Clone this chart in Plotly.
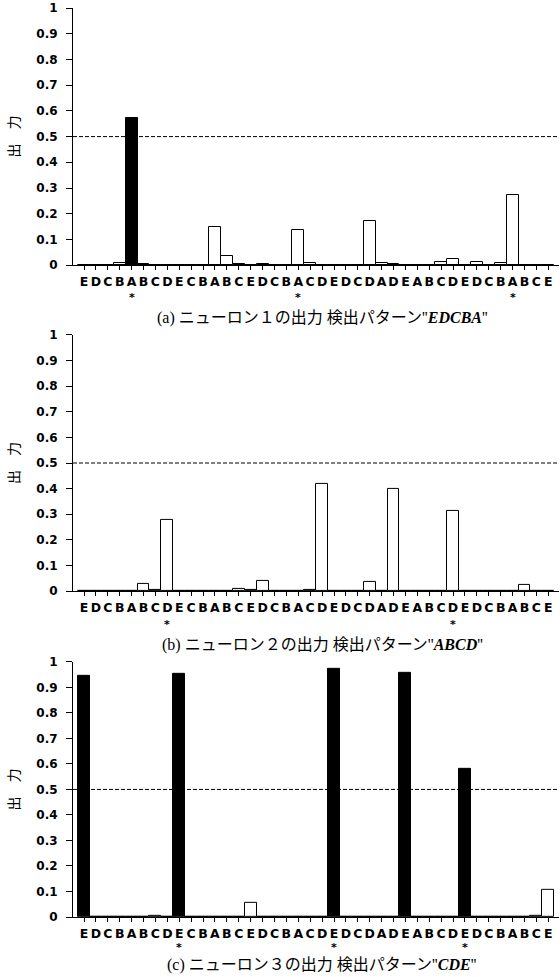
import plotly.graph_objects as go

letters = list("EDCBABCDECBABCEDCBACDEDCDADEABCDEDCBABCE")

vals_a = [0, 0, 0, 0.009, 0.572, 0.004, 0, 0, 0, 0,
          0, 0.147, 0.035, 0.004, 0, 0.004, 0, 0, 0.136, 0.008,
          0, 0, 0, 0, 0.17, 0.008, 0.004, 0, 0, 0,
          0.012, 0.023, 0, 0.012, 0, 0.008, 0.271, 0, 0, 0]
vals_b = [0, 0, 0, 0, 0, 0.026, 0.004, 0.279, 0, 0,
          0, 0, 0, 0.007, 0.004, 0.038, 0, 0, 0, 0.004,
          0.42, 0, 0, 0, 0.035, 0, 0.40, 0, 0, 0,
          0, 0.314, 0, 0, 0, 0, 0, 0.023, 0, 0]
vals_c = [0.945, 0, 0, 0, 0, 0, 0.004, 0, 0.953, 0,
          0, 0, 0, 0, 0.057, 0, 0, 0, 0, 0,
          0, 0.972, 0, 0, 0, 0, 0, 0.956, 0, 0,
          0, 0, 0.581, 0, 0, 0, 0, 0, 0.004, 0.108]

stars_a = [4, 18, 36]
stars_b = [7, 31]
stars_c = [8, 21, 32]

captions = [
    "(a) ニューロン１の出力 検出パターン''<b><i>EDCBA</i></b>''",
    "(b) ニューロン２の出力 検出パターン''<b><i>ABCD</i></b>''",
    "(c) ニューロン３の出力 検出パターン''<b><i>CDE</i></b>''",
]
ytitle = "出　力"
yticks = [0, 0.1, 0.2, 0.3, 0.4, 0.5, 0.6, 0.7, 0.8, 0.9, 1]
yticktext = ["0", "0.1", "0.2", "0.3", "0.4", "0.5", "0.6", "0.7", "0.8", "0.9", "1"]
threshold = 0.5

W, H = 560, 977
ML, MR, MT, MB = 73, 1, 5, 60
ph = H - MT - MB
pw = W - ML - MR

def py(px):
    return (H - MB - px) / ph

domains = [(py(263), py(5)), (py(590), py(333)), (py(917), py(661))]
caption_y = [316, 644, 965]
star_y = [295, 624, 948]

fig = go.Figure()
series = [vals_a, vals_b, vals_c]
stars = [stars_a, stars_b, stars_c]
xs = list(range(len(letters)))
tickfont = dict(family="DejaVu Sans", size=12, color="black", weight="bold")

annotations = []
shapes = []
for k in range(3):
    ax = "" if k == 0 else str(k + 1)
    vals = series[k]
    colors = ["black" if v > threshold else "white" for v in vals]
    fig.add_trace(go.Bar(
        x=xs, y=vals, marker=dict(color=colors, line=dict(color="black", width=1)),
        width=1.0, xaxis="x" + ax, yaxis="y" + ax, showlegend=False, hoverinfo="skip"))
    common_x = dict(
        domain=[0, 1], range=[-0.924, 39.9], tickmode="array", tickvals=xs,
        ticktext=letters, tickangle=0,
        ticks="outside", ticklen=4, tickwidth=1, tickcolor="black",
        showline=True, linecolor="black", linewidth=1, showgrid=False, zeroline=False,
        tickfont=dict(family="DejaVu Sans", size=12.5, color="black", weight="bold"),
        ticklabelstandoff=1, anchor="y" + ax, fixedrange=True)
    common_y = dict(
        domain=list(domains[k]), range=[0, 1], tickmode="array", tickvals=yticks,
        ticktext=yticktext, ticks="outside", ticklen=6, tickwidth=1, tickcolor="black",
        showline=True, linecolor="black", linewidth=1, showgrid=False, zeroline=False,
        tickfont=tickfont, ticklabelstandoff=6, anchor="x" + ax, fixedrange=True)
    fig.update_layout(**{"xaxis" + ax: common_x, "yaxis" + ax: common_y})
    shapes.append(dict(type="line", xref="x" + ax + " domain", yref="y" + ax,
                       x0=0, x1=1, y0=threshold, y1=threshold,
                       line=dict(color="black", width=1, dash="4px,2px")))
    for s in stars[k]:
        annotations.append(dict(x=s, xref="x" + ax, y=py(star_y[k]), yref="paper",
                                text="<b>*</b>", showarrow=False,
                                font=dict(family="DejaVu Sans", size=11, color="black"),
                                xanchor="center", yanchor="middle"))
    annotations.append(dict(x=(322 - ML) / pw, xref="paper", y=py(caption_y[k]), yref="paper",
                            text=captions[k], showarrow=False,
                            font=dict(family="Liberation Serif, Noto Sans CJK JP", size=16, color="black"),
                            xanchor="center", yanchor="middle"))
    annotations.append(dict(x=(13 - ML) / pw, xref="paper",
                            y=(domains[k][0] + domains[k][1]) / 2, yref="paper",
                            text=ytitle, textangle=-90, showarrow=False,
                            font=dict(family="Noto Sans CJK JP", size=14, color="black"),
                            xanchor="center", yanchor="middle"))

fig.update_layout(
    width=W, height=H, margin=dict(l=ML, r=MR, t=MT, b=MB),
    paper_bgcolor="white", plot_bgcolor="white",
    bargap=0, annotations=annotations, shapes=shapes)

fig.write_html("out.html", config={"displayModeBar": False},
               post_script="document.body.style.margin='0';document.body.style.padding='0';document.body.style.overflow='hidden';")
